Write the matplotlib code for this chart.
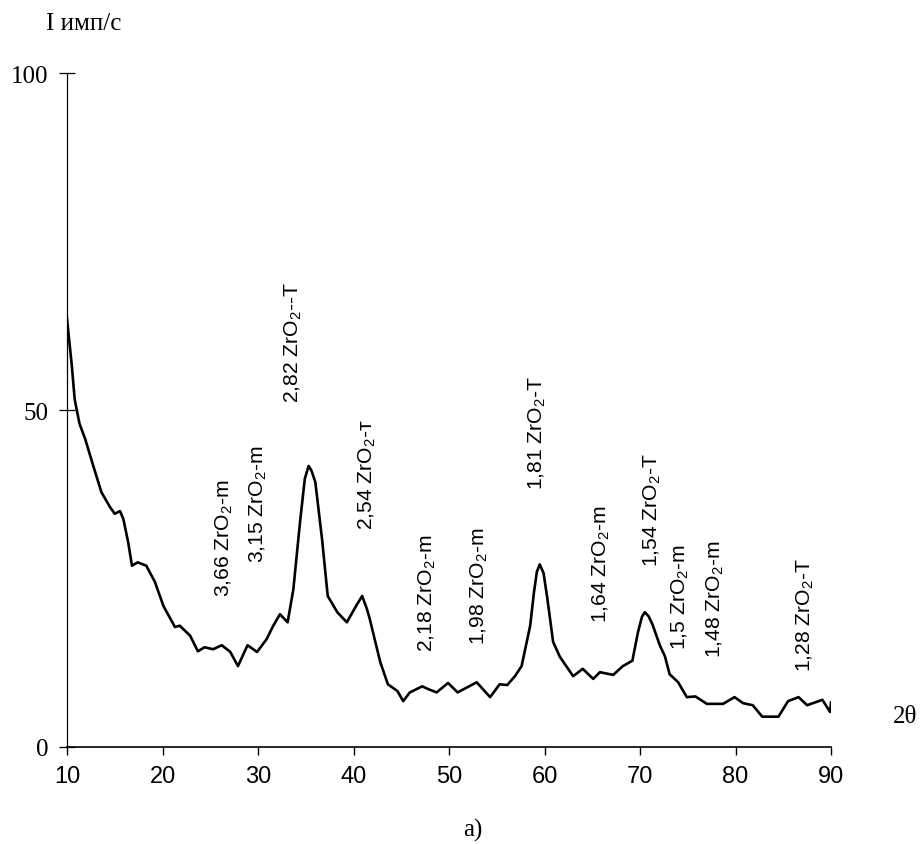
import matplotlib
matplotlib.use('Agg')
import matplotlib.pyplot as plt

plt.rcParams['mathtext.fontset'] = 'custom'
plt.rcParams['mathtext.rm'] = 'Liberation Sans'
plt.rcParams['mathtext.it'] = 'Liberation Sans'

# digitized diffractogram
two_theta = [10.0, 10.5, 10.8, 11.3, 11.9, 12.75, 13.6, 14.5, 15.0, 15.55, 15.9, 16.4, 16.8,
             17.4, 18.3, 19.2, 20.1, 21.3, 21.8, 22.9, 23.7, 24.4, 25.3, 26.2, 27.1,
             27.9, 28.9, 29.9, 30.9, 31.6, 32.3, 33.1, 33.7, 34.4, 34.9, 35.3, 35.6, 36.0, 36.7,
             37.3, 38.3, 39.3, 40.3, 40.9, 41.4, 41.7, 42.3, 42.8, 43.6, 44.6, 45.2, 45.9,
             47.2, 47.8, 48.7, 49.9, 50.9, 52.9, 54.3, 55.3, 56.1, 56.9, 57.6, 58.5,
             58.9, 59.2, 59.5, 59.9, 60.3, 60.9, 61.6, 63.0, 64.0, 65.1, 65.8, 67.2, 68.2, 69.2,
             69.8, 70.2, 70.5, 70.9, 71.3, 72.1, 72.6, 73.1, 74.0, 74.9, 75.8, 77.0, 78.7, 79.9,
             80.8, 81.8, 82.8, 84.5, 85.5, 86.6, 87.5, 89.1, 89.9, 90.0]
intensity = [63.5, 56.6, 51.6, 48.0, 45.7, 41.7, 37.8, 35.6, 34.6, 35.0, 33.8, 30.4, 26.9,
             27.4, 26.9, 24.5, 20.9, 17.8, 18.0, 16.5, 14.2, 14.8, 14.5, 15.1, 14.1,
             12.0, 15.1, 14.1, 16.0, 18.0, 19.7, 18.5, 23.4, 33.4, 39.8, 41.7, 41.0, 39.3, 30.9,
             22.4, 20.0, 18.5, 21.0, 22.4, 20.5, 19.0, 15.5, 12.6, 9.3, 8.3, 6.8, 8.1,
             9.0, 8.6, 8.1, 9.5, 8.1, 9.6, 7.4, 9.3, 9.2, 10.5, 12.0, 18.0,
             23.0, 26.0, 27.1, 25.8, 22.0, 15.6, 13.4, 10.5, 11.6, 10.1, 11.1, 10.7, 12.0, 12.8,
             17.1, 19.3, 20.0, 19.4, 18.2, 15.0, 13.5, 10.8, 9.6, 7.4, 7.5, 6.4, 6.4, 7.4,
             6.5, 6.2, 4.5, 4.5, 6.8, 7.4, 6.2, 7.0, 5.2, 6.6]

# peak labels: text, 2theta position, intensity of label bottom
peak_labels = ['3,66 ZrO$_2$-m', '3,15 ZrO$_2$-m', '2,82 ZrO$_2$--T', '2,54 ZrO$_2$-т',
               '2,18 ZrO$_2$-m', '1,98 ZrO$_2$-m', '1,81 ZrO$_2$-T', '1,64 ZrO$_2$-m',
               '1,54 ZrO$_2$-T', '1,5 ZrO$_2$-m', '1,48 ZrO$_2$-m', '1,28 ZrO$_2$-T']
label_x = [26.5, 30.0, 33.7, 41.4, 47.7, 53.2, 59.2, 66.0, 71.3, 74.2, 77.9, 87.3]
label_y = [22.4, 27.4, 51.2, 32.3, 14.2, 15.3, 38.3, 18.5, 26.9, 14.5, 13.4, 11.3]

fig = plt.figure(figsize=(9.22, 8.45), dpi=100)
ax = fig.add_axes([0.0727, 0.1148, 0.8286, 0.7976])

ax.plot(two_theta, intensity, color='black', lw=1.9)

for t, x, y in zip(peak_labels, label_x, label_y):
    ax.text(x, y, t, rotation=90, ha='center', va='bottom', fontsize=15.2,
            family='Liberation Sans')

ax.set_xlim(10, 90)
ax.set_ylim(0, 100)
ax.set_xticks(range(10, 91, 10))
ax.set_yticks([0, 50, 100])
ax.spines['top'].set_visible(False)
ax.spines['right'].set_visible(False)
ax.spines['left'].set_linewidth(0.9)
ax.spines['bottom'].set_linewidth(1.2)
ax.tick_params(axis='x', direction='out', length=6, width=1, pad=7)
ax.tick_params(axis='y', direction='inout', length=11, width=0.9, pad=8)
for lab in ax.get_xticklabels():
    lab.set_family('Liberation Sans')
    lab.set_fontsize(17)
for lab in ax.get_yticklabels():
    lab.set_family('Liberation Serif')
    lab.set_fontsize(18)

fig.text(84 / 922, 1 - 24 / 845, 'I имп/с', family='Liberation Serif', fontsize=18,
         ha='center', va='center')
fig.text(905 / 922, 1 - 717 / 845, '2θ', family='Liberation Serif', fontsize=18,
         ha='center', va='center')
fig.text(473 / 922, 1 - 830 / 845, 'a)', family='Liberation Serif', fontsize=18,
         ha='center', va='center')

fig.savefig('out.png', dpi=100)
